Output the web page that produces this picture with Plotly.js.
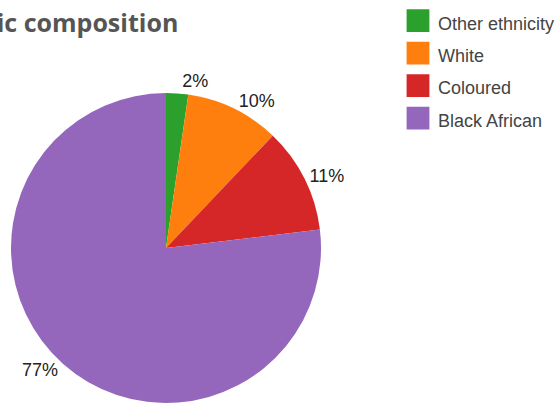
<!DOCTYPE html>
<html>
<head>
<meta charset="utf-8">
<script src="https://cdn.plot.ly/plotly-3.0.1.min.js"></script>
<style>html,body{margin:0;padding:0;background:#fff;}#chart{width:560px;height:404px;}
#chart path.textline{display:none;}</style>
</head>
<body>
<div id="chart"></div>
<script>
const titleText = "Ethnic composition";
const categories = ["Other ethnicity", "White", "Coloured", "Black African"];
const shares = [2.3, 9.8, 11.0, 76.9];
const colors = ["#2ca02c", "#ff7f0e", "#d62728", "#9467bd"];

const legendLabels = categories.map(c => '<span style="font-size:18px">' + c + '</span>');

const trace = {
  type: "pie",
  labels: legendLabels,
  values: shares,
  sort: false,
  direction: "clockwise",
  rotation: 0,
  marker: {colors: colors, line: {width: 0}},
  textinfo: "percent",
  texttemplate: "%{percent:.0%}",
  textposition: "outside",
  outsidetextfont: {family: "Liberation Sans, Arial, sans-serif", size: 18, color: "#222"},
  hoverinfo: "skip",
  domain: {x: [11/560, 321/560], y: [1/404, 311/404]}
};

const layout = {
  width: 560,
  height: 404,
  margin: {l: 0, r: 0, t: 0, b: 0, autoexpand: false},
  paper_bgcolor: "#fff",
  showlegend: true,
  legend: {
    x: 398/560, xanchor: "left",
    y: 1 + 0.5/404, yanchor: "top",
    font: {family: "Liberation Sans, Arial, sans-serif", size: 22.65, color: "#444"},
    bgcolor: "rgba(0,0,0,0)"
  },
  annotations: [{
    text: titleText,
    xref: "paper", yref: "paper",
    x: 180/560, xanchor: "right",
    y: 1 - 22/404, yanchor: "middle",
    showarrow: false,
    font: {family: "Open Sans, sans-serif", size: 25, weight: 700, color: "#555"}
  }]
};

Plotly.newPlot("chart", [trace], layout, {staticPlot: true}).then(gd => {
  gd.querySelectorAll(".legend .legendpoints path").forEach(p => {
    const t = p.getAttribute("transform") || "";
    p.setAttribute("transform", t + " scale(1.9)");
  });
});
</script>
</body>
</html>
